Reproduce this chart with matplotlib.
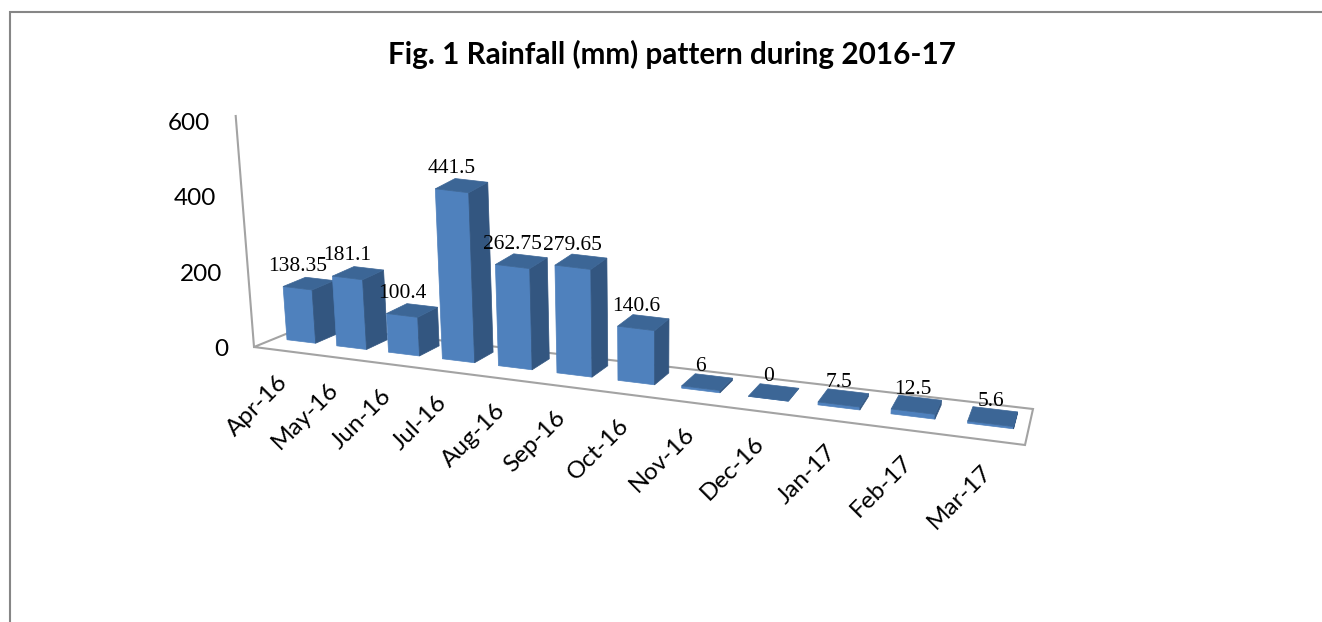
import numpy as np
import matplotlib
matplotlib.use("Agg")
import matplotlib.pyplot as plt
from matplotlib.patches import Polygon

months = ["Apr-16", "May-16", "Jun-16", "Jul-16", "Aug-16", "Sep-16",
          "Oct-16", "Nov-16", "Dec-16", "Jan-17", "Feb-17", "Mar-17"]
rainfall = [138.35, 181.1, 100.4, 441.5, 262.75, 279.65, 140.6, 6, 0, 7.5, 12.5, 5.6]
rain_labels = ["138.35", "181.1", "100.4", "441.5", "262.75", "279.65",
               "140.6", "6", "0", "7.5", "12.5", "5.6"]
y_ticks = [0, 200, 400, 600]
title = "Fig. 1 Rainfall (mm) pattern during 2016-17"

FRONT = "#4F81BD"
SIDE = "#335680"
TOP = "#3C6696"
LINE = "#A3A3A3"
BORDER = "#868686"

# esquinas del suelo en pixeles: (categoria, profundidad) -> (x, y)
floor_src = [(0, 0), (12, 0), (12, 1), (0, 1)]
floor_dst = [(254, 347), (1025, 445), (1033, 409), (308, 325)]


def fit_homography(src, dst):
    rows, rhs = [], []
    for (u, d), (x, y) in zip(src, dst):
        rows.append([u, d, 1, 0, 0, 0, -u * x, -d * x])
        rows.append([0, 0, 0, u, d, 1, -u * y, -d * y])
        rhs += [x, y]
    return np.append(np.linalg.solve(np.array(rows, float), np.array(rhs, float)), 1).reshape(3, 3)


H = fit_homography(floor_src, floor_dst)


def project(u, d, v=0):
    """Pasa categoria, profundidad y valor a pixeles, con la caida de la perspectiva."""
    p = H @ np.array([u, d, 1.0])
    x, y = p[0] / p[2], p[1] / p[2]
    h = v * 0.385
    return x + (x - 650) * 0.0002 * h, y - h


fig = plt.figure(figsize=(13.22, 6.22), dpi=100)
ax = fig.add_axes([0, 0, 1, 1])
ax.set_xlim(0, 1322)
ax.set_ylim(622, 0)
ax.axis("off")

# marco de la imagen
ax.plot([10, 10, 1322], [622, 12, 12], color=BORDER, lw=1.5, solid_joinstyle="miter")

ax.text(672, 54, title, family="Lato", weight="bold", fontsize=21.3, ha="center", va="center", color="black")

# suelo y pared
floor = [project(u, d) for u, d in floor_src]
ax.add_patch(Polygon(floor, closed=True, fc="white", ec=LINE, lw=1.5, zorder=1))
wall = [project(0, 0), project(0, 0, y_ticks[-1])]
ax.plot([p[0] for p in wall], [p[1] for p in wall], color=LINE, lw=1.5, zorder=1)

for tick in y_ticks:
    x, y = project(0, 0, tick)
    ax.text(x - 26, y + 3 + tick / 150, str(tick), family="Lato", fontsize=17.5, ha="right", va="center",
            color="black")

gap = 0.21
shift = 0.03
d0, d1 = 0.38, 0.80
for i, value in enumerate(rainfall):
    u0, u1 = i + gap + shift, i + 1 - gap + shift
    ax.add_patch(Polygon([project(u0, d0), project(u1, d0), project(u1, d0, value), project(u0, d0, value)],
                         fc=FRONT, ec=FRONT, lw=0.5, zorder=2 + i))
    ax.add_patch(Polygon([project(u1, d0), project(u1, d1), project(u1, d1, value), project(u1, d0, value)],
                         fc=SIDE, ec=SIDE, lw=0.5, zorder=2 + i))
    ax.add_patch(Polygon([project(u0, d0, value), project(u1, d0, value), project(u1, d1, value), project(u0, d1, value)],
                         fc=TOP, ec=TOP, lw=0.5, zorder=2 + i))

    # etiqueta del valor
    x, y = project(i + 0.5 + shift, d0, value)
    ax.text(x, y - 22, rain_labels[i], family="Liberation Serif", fontsize=15.5, ha="center", va="center",
            color="black", zorder=30)

    # etiqueta del mes
    x, y = project(i + 0.5, 0)
    ax.text(x + 5, y + 29, months[i], family="Lato", fontsize=17.5, rotation=45, rotation_mode="anchor",
            ha="right", va="center", color="black", zorder=30)

fig.savefig("out.png", dpi=100)
